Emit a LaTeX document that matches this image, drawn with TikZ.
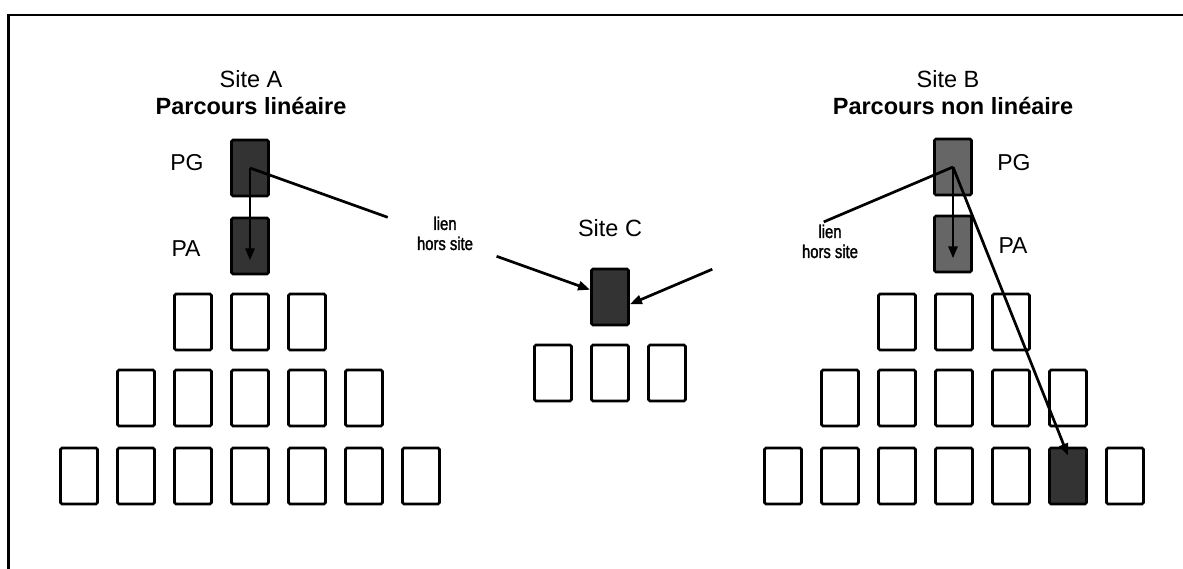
\documentclass[tikz,border=0pt]{standalone}
\usepackage{fontspec}
\setmainfont{Liberation Sans}
\newfontfamily\narrowsans[FakeStretch=0.8,FakeBold=1.5]{Liberation Sans}
\usetikzlibrary{arrows.meta,calc}

\begin{document}
\begin{tikzpicture}[x=1pt,y=-1pt,
  frameline/.style={line width=2.8pt},
  pagebox/.style={draw, line width=2.8pt, rounded corners=1.5pt,
    minimum width=37pt, minimum height=56pt, inner sep=0pt},
  visited/.style={pagebox, fill=black!80},
  lightvisited/.style={pagebox, fill=black!60},
  sitename/.style={font=\fontsize{23.5}{28}\selectfont, inner sep=0pt, anchor=base},
  walkname/.style={font=\bfseries\fontsize{23.5}{28}\selectfont, inner sep=0pt, anchor=base},
  pagename/.style={font=\fontsize{23}{28}\selectfont, inner sep=0pt, anchor=base},
  linkname/.style={font=\narrowsans\fontsize{18.5}{20}\selectfont, align=center,
    inner sep=0pt, anchor=base},
  link/.style={line width=2.7pt},
  follow/.style={link, -{Triangle[length=12pt,width=9pt]}}
]
\useasboundingbox (0,0) rectangle (1183,569);

% open frame: left and top edges
\coordinate (fbl) at (8.5,569);
\coordinate (ftl) at (8.5,15);
\coordinate (ftr) at (1183,15);
\draw[frameline] (fbl) -- (ftl) -- (ftr);

% ---------- Site A ----------
\node[sitename] (titleA) at (251,88) {Site A};
\node[walkname] (walkA) at (251,115) {Parcours linéaire};
\node[visited] (pgA) at (250,168) {};
\node[visited] (paA) at (250,246) {};
\node[pagename] (pgAlab) at (187,171) {PG};
\node[pagename] (paAlab) at (186,257) {PA};
\foreach \i in {1,2,3}
  \node[pagebox] (a1\i) at ({250+57*(\i-2)},322) {};
\foreach \i in {1,...,5}
  \node[pagebox] (a2\i) at ({250+57*(\i-3)},398) {};
\foreach \i in {1,...,7}
  \node[pagebox] (a3\i) at ({250+57*(\i-4)},476) {};

% ---------- Site C ----------
\node[sitename] (titleC) at (610,237) {Site C};
\node[visited] (cbox) at (610,297) {};
\foreach \i in {1,2,3}
  \node[pagebox] (c\i) at ({610+57*(\i-2)},373) {};

% ---------- Site B ----------
\node[sitename] (titleB) at (948,88) {Site B};
\node[walkname] (walkB) at (953,115) {Parcours non linéaire};
\node[lightvisited] (pgB) at (953,167) {};
\node[lightvisited] (paB) at (953,244) {};
\node[pagename] (pgBlab) at (1014,171) {PG};
\node[pagename] (paBlab) at (1013,254) {PA};
\foreach \i in {1,2,3}
  \node[pagebox] (b1\i) at ({954+57*(\i-2)},322) {};
\foreach \i in {1,...,5}
  \node[pagebox] (b2\i) at ({954+57*(\i-3)},398) {};
\foreach \i in {1,...,5,7}
  \node[pagebox] (b3\i) at ({954+57*(\i-4)},476) {};
\node[visited] (b36) at (1068,476) {};

% ---------- off-site link labels ----------
\node[linkname] (lienA) at (445,250) {lien\\hors site};
\node[linkname] (lienB) at (830,258) {lien\\hors site};

% ---------- links ----------
% linear walk in site A
\draw[follow] (pgA.center) -- ([yshift=15pt]paA.south);
% off-site link from site A to site C, interrupted by its label
\coordinate (la1) at ($(pgA.center)!0.405!(cbox.160)$);
\coordinate (la2) at ($(pgA.center)!0.725!(cbox.160)$);
\draw[link] (pgA.center) -- (la1);
\draw[follow] (la2) -- (cbox.160);

% non-linear walk in site B
\draw[follow] (pgB.center) -- ([yshift=15pt]paB.south);
\draw[follow] (pgB.center) -- ([yshift=-9pt]b36.north);
% off-site link from site B to site C, interrupted by its label
\coordinate (lb1) at ($(pgB.center)!0.40!(cbox.-20)$);
\coordinate (lb2) at ($(pgB.center)!0.745!(cbox.-20)$);
\draw[link] (pgB.center) -- (lb1);
\draw[follow] (lb2) -- (cbox.-20);
\end{tikzpicture}
\end{document}
